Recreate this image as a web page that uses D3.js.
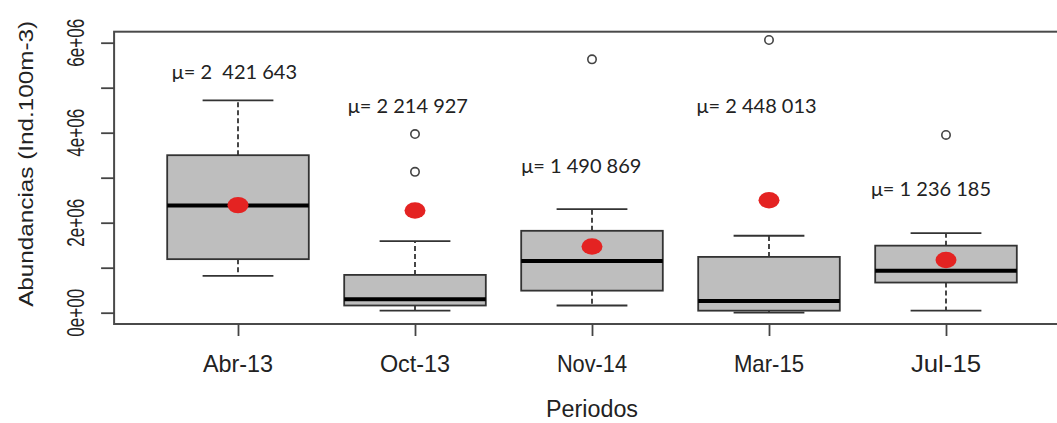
<!DOCTYPE html>
<html><head><meta charset="utf-8">
<script src="https://cdn.jsdelivr.net/npm/d3@7"></script>
<style>html,body{margin:0;padding:0;background:#fff;}</style>
</head><body>
<svg id="chart" width="1057" height="423"></svg>
<script>
// ---- data ----
const categories = ["Abr-13", "Oct-13", "Nov-14", "Mar-15", "Jul-15"];
const lowerWhisker = [0.82e6, 0.045e6, 0.16e6, 0.0, 0.045e6];
const q1 = [1.19e6, 0.16e6, 0.49e6, 0.045e6, 0.67e6];
const medians = [2.38e6, 0.30e6, 1.15e6, 0.26e6, 0.93e6];
const q3 = [3.50e6, 0.84e6, 1.82e6, 1.24e6, 1.49e6];
const upperWhisker = [4.72e6, 1.59e6, 2.30e6, 1.71e6, 1.77e6];
const outliers = [[], [3.13e6, 3.97e6], [5.63e6], [6.06e6], [3.95e6]];
const meanDots = [2.39e6, 2.27e6, 1.47e6, 2.50e6, 1.17e6];
const meanLabels = ["μ= 2  421 643", "μ= 2 214 927", "μ= 1 490 869", "μ= 2 448 013", "μ= 1 236 185"];
const meanLabelY = [5.19e6, 4.44e6, 3.10e6, 4.44e6, 2.60e6];
const meanLabelShift = [-0.02, -0.04, -0.06, -0.07, -0.085];
const yTicks = [0, 1e6, 2e6, 3e6, 4e6, 5e6, 6e6];
const yTickLabels = {0: "0e+00", 2000000: "2e+06", 4000000: "4e+06", 6000000: "6e+06"};
const xTitle = "Periodos";
const yTitle = "Abundancias (Ind.100m-3)";

// ---- scales ----
const svg = d3.select("#chart");
const x = d3.scaleLinear().domain([1, 5]).range([238, 946]);
const y = d3.scaleLinear().domain([0, 6e6]).range([312.7, 42.7]);
const unit = x(2) - x(1);
const boxW = 0.8 * unit, capW = 0.4 * unit;
const frameTop = 31.7, frameBottom = 324;

const stroke = "#333";
// frame
svg.append("rect")
  .attr("x", x(0.3)).attr("y", frameTop)
  .attr("width", x(5.7) - x(0.3)).attr("height", frameBottom - frameTop)
  .attr("fill", "none").attr("stroke", "#4a4a4a").attr("stroke-width", 2);

// y axis
const yAxis = d3.axisLeft(y).tickValues(yTicks).tickSize(13).tickFormat("");
const gy = svg.append("g").attr("transform", `translate(${x(0.3)},0)`).call(yAxis);
gy.select(".domain").remove();
gy.selectAll("line").attr("stroke", "#444").attr("stroke-width", 1.8);
yTicks.filter(v => yTickLabels[v]).forEach(v => {
  svg.append("text")
    .attr("transform", `translate(84,${y(v)}) rotate(-90)`)
    .attr("text-anchor", "middle")
    .attr("font-family", "Liberation Sans, Arial, sans-serif")
    .attr("font-size", 24).attr("fill", "#222")
    .attr("textLength", 48).attr("lengthAdjust", "spacingAndGlyphs")
    .text(yTickLabels[v]);
});

// x axis
const xAxis = d3.axisBottom(x).tickValues([1,2,3,4,5]).tickSize(12).tickFormat("");
const gx = svg.append("g").attr("transform", `translate(0,${frameBottom})`).call(xAxis);
gx.select(".domain").remove();
gx.selectAll("line").attr("stroke", "#444").attr("stroke-width", 1.8);
categories.forEach((c, i) => {
  svg.append("text")
    .attr("x", x(i + 1)).attr("y", 372)
    .attr("text-anchor", "middle")
    .attr("font-family", "Liberation Sans, Arial, sans-serif")
    .attr("font-size", 24).attr("fill", "#222")
    .attr("textLength", c.length * 11.7).attr("lengthAdjust", "spacingAndGlyphs")
    .text(c);
});

// titles
svg.append("text")
  .attr("x", x(3)).attr("y", 417).attr("text-anchor", "middle")
  .attr("font-family", "Liberation Sans, Arial, sans-serif")
  .attr("font-size", 23).attr("fill", "#222")
  .attr("textLength", 92).attr("lengthAdjust", "spacingAndGlyphs")
  .text(xTitle);
svg.append("text")
  .attr("transform", `translate(33,${(frameTop + frameBottom) / 2 - 14}) rotate(-90)`)
  .attr("text-anchor", "middle")
  .attr("font-family", "Liberation Sans, Arial, sans-serif")
  .attr("font-size", 21).attr("fill", "#222")
  .attr("textLength", 286).attr("lengthAdjust", "spacingAndGlyphs")
  .text(yTitle);

// boxes
const g = svg.append("g");
categories.forEach((c, i) => {
  const cx = x(i + 1);
  // whiskers (dashed)
  g.append("line").attr("x1", cx).attr("x2", cx)
    .attr("y1", y(q3[i])).attr("y2", y(upperWhisker[i]))
    .attr("stroke", stroke).attr("stroke-width", 1.8).attr("stroke-dasharray", "5,3");
  g.append("line").attr("x1", cx).attr("x2", cx)
    .attr("y1", y(q1[i])).attr("y2", y(lowerWhisker[i]))
    .attr("stroke", stroke).attr("stroke-width", 1.8).attr("stroke-dasharray", "5,3");
  // caps
  [upperWhisker[i], lowerWhisker[i]].forEach(v => {
    g.append("line").attr("x1", cx - capW / 2).attr("x2", cx + capW / 2)
      .attr("y1", y(v)).attr("y2", y(v))
      .attr("stroke", stroke).attr("stroke-width", 1.8);
  });
  // box
  g.append("rect").attr("x", cx - boxW / 2).attr("y", y(q3[i]))
    .attr("width", boxW).attr("height", y(q1[i]) - y(q3[i]))
    .attr("fill", "#bebebe").attr("stroke", stroke).attr("stroke-width", 1.8);
  // median
  g.append("line").attr("x1", cx - boxW / 2).attr("x2", cx + boxW / 2)
    .attr("y1", y(medians[i])).attr("y2", y(medians[i]))
    .attr("stroke", "#000").attr("stroke-width", 4);
  // outliers
  outliers[i].forEach(v => {
    g.append("circle").attr("cx", cx).attr("cy", y(v)).attr("r", 4.2)
      .attr("fill", "#fff").attr("stroke", "#444").attr("stroke-width", 1.6);
  });
  // mean dot
  g.append("ellipse").attr("cx", cx).attr("cy", y(meanDots[i]))
    .attr("rx", 10.5).attr("ry", 8.2).attr("fill", "#e42322");
  // mean label
  g.append("text").attr("x", x(i + 1 + meanLabelShift[i])).attr("y", y(meanLabelY[i]))
    .attr("text-anchor", "middle")
    .attr("font-family", "Lato, 'Open Sans', sans-serif")
    .attr("font-size", 20).attr("fill", "#222")
    .style("white-space", "pre")
    .text(meanLabels[i]);
});
</script>
</body></html>
